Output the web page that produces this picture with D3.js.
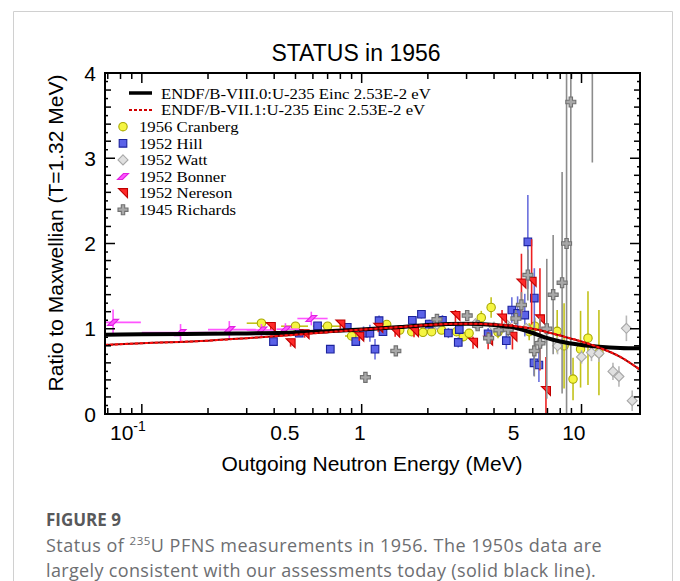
<!DOCTYPE html>
<html><head><meta charset="utf-8">
<script src="https://cdn.jsdelivr.net/npm/d3@7"></script>
<style>body{margin:0;background:#fff}svg{display:block}</style>
</head><body>
<svg id="c" width="680" height="581"></svg>
<script>
// ---------- data ----------
const curveE  = [0.068, 0.1, 0.2, 0.3, 0.5, 0.7, 1, 1.5, 2, 3, 4, 5, 6, 7, 8, 10, 12, 15, 18.45];
const endf8   = [0.93, 0.935, 0.94, 0.945, 0.955, 0.97, 0.99, 1.02, 1.045, 1.06, 1.045, 1.01, 0.95, 0.89, 0.85, 0.81, 0.79, 0.775, 0.77];
const endf7   = [0.81, 0.83, 0.86, 0.89, 0.93, 0.96, 0.99, 1.02, 1.045, 1.06, 1.05, 1.03, 1.0, 0.96, 0.92, 0.85, 0.78, 0.67, 0.52];

const cranE  = [0.35, 0.50, 0.70, 0.90, 1.30, 1.49, 1.69, 1.90, 2.08, 2.31, 2.70, 2.90, 3.08, 3.50, 3.88, 4.17, 5.78, 6.13, 7.75, 8.33, 9.15, 9.9, 10.7, 12.0];
const cranV  = [1.065, 1.03, 1.03, 0.915, 1.05, 0.985, 0.965, 0.958, 0.965, 0.985, 0.965, 0.907, 0.947, 1.13, 1.25, 0.96, 0.965, 1.03, 0.97, 0.80, 0.41, 0.76, 0.89, 0.72];
const cranDV = [0.03, 0.03, 0.03, 0.03, 0.03, 0.03, 0.03, 0.03, 0.03, 0.04, 0.04, 0.04, 0.05, 0.08, 0.12, 0.07, 0.1, 0.1, 0.25, 0.5, 0.25, 0.45, 0.55, 0.5];
const cranDE = [0.05, 0.07, 0.10, 0.06, 0, 0, 0, 0, 0, 0, 0, 0, 0, 0, 0, 0, 0, 0, 0, 0, 0, 0, 0, 0];

const hillE  = [0.397, 0.52, 0.63, 0.72, 0.86, 0.94, 1.02, 1.09, 1.15, 1.20, 1.25, 1.70, 1.87, 2.03, 2.33, 2.48, 2.75, 2.78, 3.76, 4.55, 4.82, 5.12, 5.52, 5.70, 6.10, 6.08, 6.40];
const hillV  = [0.85, 0.947, 1.035, 0.76, 1.017, 0.85, 0.947, 0.947, 0.76, 1.095, 0.965, 1.10, 1.17, 1.055, 1.10, 0.95, 0.84, 0.99, 0.94, 0.86, 1.22, 1.18, 1.16, 2.02, 1.36, 0.60, 0.575];
const hillDV = [0.03, 0.03, 0.04, 0.04, 0.04, 0.05, 0.08, 0.1, 0.12, 0.06, 0.05, 0.05, 0.05, 0.05, 0.06, 0.06, 0.06, 0.06, 0.07, 0.1, 0.15, 0.2, 0.25, 0.55, 0.35, 0.15, 0.2];

const wattE  = [2.2, 3.3, 4.0, 4.6, 5.6, 6.57, 7.78, 10.0, 11.1, 12.0, 13.9, 14.8, 16.0, 17.0];
const wattV  = [1.05, 1.06, 1.02, 1.04, 1.005, 0.85, 0.80, 0.67, 0.72, 0.71, 0.50, 0.44, 1.005, 0.156];
const wattDV = [0.03, 0.03, 0.04, 0.04, 0.05, 0.08, 0.1, 0.08, 0.1, 0.1, 0.1, 0.12, 0.15, 0.12];

const bonE   = [0.074, 0.15, 0.25, 0.35, 0.45, 0.59];
const bonV   = [1.075, 0.955, 0.99, 0.985, 0.995, 1.12];
const bonDV  = [0.15, 0.1, 0.1, 0.07, 0.07, 0.08];
const bonElo = [0.065, 0.10, 0.20, 0.30, 0.41, 0.51];
const bonEhi = [0.099, 0.22, 0.33, 0.40, 0.52, 0.70];

const nerE   = [0.386, 0.475, 0.55, 0.80, 0.975, 1.19, 1.42, 1.73, 2.67, 3.21, 3.76, 4.35, 4.85, 5.33, 5.93, 6.47, 6.89];
const nerV   = [1.02, 0.83, 0.935, 1.05, 0.907, 1.01, 0.955, 0.96, 1.15, 0.835, 0.86, 1.12, 0.907, 1.53, 1.55, 1.11, 0.27];
const nerDV  = [0.03, 0.04, 0.04, 0.05, 0.05, 0.05, 0.05, 0.06, 0.07, 0.07, 0.1, 0.1, 0.15, 0.35, 0.5, 0.6, 0.4];

const richE  = [1.04, 1.43, 2.2, 3.02, 3.37, 3.78, 4.21, 4.64, 5.03, 5.33, 5.70, 6.10, 6.47, 6.95, 7.43, 8.16, 8.55, 8.94, 11.2];
const richV  = [0.43, 0.74, 1.11, 1.155, 1.035, 0.89, 0.983, 0.99, 1.12, 1.28, 1.63, 0.74, 0.83, 1.0, 1.40, 1.54, 2.0, 3.66, 4.3];
const richDV = [0.04, 0.05, 0.05, 0.05, 0.05, 0.06, 0.06, 0.08, 0.1, 0.15, 0.3, 0.3, 0.3, 0.82, 0.7, 1.3, 2.0, 3.2, 1.35];

const xTickMajor = [0.1, 1, 10];
const xTickMinor = [0.07, 0.08, 0.09, 0.2, 0.3, 0.4, 0.5, 0.6, 0.7, 0.8, 0.9, 2, 3, 4, 5, 6, 7, 8, 9];
const xTickLabels = [[0.1, "10", "-1"], [0.5, "0.5", ""], [1, "1", ""], [5, "5", ""], [10, "10", ""]];
const yTickLabels = [0, 1, 2, 3, 4];

// ---------- layout ----------
const svg = d3.select("#c");
const L = 105, R = 640, T = 73, B = 414;
const x = d3.scaleLog().domain([0.068, 18.45]).range([L, R]);
const y = d3.scaleLinear().domain([0, 4]).range([B, T]);
const sans = "Liberation Sans, Arial, sans-serif";

// card border
svg.append("path").attr("d", `M13.5,600 V11.5 H672.5 V600`).attr("fill", "none").attr("stroke", "#d0d0d0").attr("stroke-width", 1);

// title
svg.append("text").attr("x", 356).attr("y", 61).attr("text-anchor", "middle")
  .attr("font-family", sans).attr("font-size", 23).text("STATUS in 1956");

// clip
svg.append("defs").append("clipPath").attr("id", "clip").append("rect")
  .attr("x", L).attr("y", T).attr("width", R - L).attr("height", B - T);
const plot = svg.append("g").attr("clip-path", "url(#clip)");

// marker shapes
const shapes = {
  circle: "M4.2,0A4.2,4.2 0 1,1 -4.2,0A4.2,4.2 0 1,1 4.2,0Z",
  square: "M-3.8,-3.8H3.8V3.8H-3.8Z",
  diamond: "M0,-5L5,0L0,5L-5,0Z",
  para: "M-5.5,3L0.5,-3L5.5,-3L-0.5,3Z",
  tri: "M-4.5,-4.5L4.5,-4.5L4.5,4.5Z",
  plus: "M-1.7,-5H1.7V-1.7H5V1.7H1.7V5H-1.7V1.7H-5V-1.7H-1.7Z"
};

const series = [
  {name: "1956 Cranberg", E: cranE, V: cranV, DV: cranDV, DE: cranDE, shape: "circle", fill: "#f5f542", stroke: "#a8a800", bar: "#c2c21a"},
  {name: "1952 Hill", E: hillE, V: hillV, DV: hillDV, shape: "square", fill: "#5b62e8", stroke: "#1c239c", bar: "#6a70dd"},
  {name: "1952 Watt", E: wattE, V: wattV, DV: wattDV, shape: "diamond", fill: "#e0e0e0", stroke: "#a8a8a8", bar: "#b8b8b8"},
  {name: "1952 Bonner", E: bonE, V: bonV, DV: bonDV, Elo: bonElo, Ehi: bonEhi, shape: "para", fill: "#ff55ff", stroke: "#e020e0", bar: "#ff55ff"},
  {name: "1952 Nereson", E: nerE, V: nerV, DV: nerDV, shape: "tri", fill: "#ff2a2a", stroke: "#c00000", bar: "#ee2020"},
  {name: "1945 Richards", E: richE, V: richV, DV: richDV, shape: "plus", fill: "#a8a8a8", stroke: "#707070", bar: "#8c8c8c"}
];

series.forEach(s => {
  const pts = s.E.map((e, i) => ({e, v: s.V[i], dv: s.DV[i],
    lo: s.Elo ? s.Elo[i] : (s.DE && s.DE[i] ? e - s.DE[i] : null),
    hi: s.Ehi ? s.Ehi[i] : (s.DE && s.DE[i] ? e + s.DE[i] : null)}));
  const g = plot.append("g");
  g.selectAll("line.v").data(pts).join("line").attr("class", "v")
    .attr("x1", d => x(d.e)).attr("x2", d => x(d.e))
    .attr("y1", d => y(Math.max(0, d.v - d.dv))).attr("y2", d => y(d.v + d.dv))
    .attr("stroke", s.bar).attr("stroke-width", 1.6);
  g.selectAll("line.h").data(pts.filter(d => d.lo != null)).join("line").attr("class", "h")
    .attr("x1", d => x(d.lo)).attr("x2", d => x(d.hi))
    .attr("y1", d => y(d.v)).attr("y2", d => y(d.v))
    .attr("stroke", s.bar).attr("stroke-width", 1.6);
  g.selectAll("path").data(pts).join("path")
    .attr("transform", d => `translate(${x(d.e)},${y(d.v)})`)
    .attr("d", shapes[s.shape]).attr("fill", s.fill).attr("stroke", s.stroke).attr("stroke-width", 1.1);
});

// curves
const line = d3.line().x(d => x(d[0])).y(d => y(d[1])).curve(d3.curveMonotoneX);
plot.append("path").datum(curveE.map((e, i) => [e, endf8[i]])).attr("d", line)
  .attr("fill", "none").attr("stroke", "#000").attr("stroke-width", 4);
plot.append("path").datum(curveE.map((e, i) => [e, endf7[i]])).attr("d", line)
  .attr("fill", "none").attr("stroke", "#8b0000").attr("stroke-width", 2);
plot.append("path").datum(curveE.map((e, i) => [e, endf7[i]])).attr("d", line)
  .attr("fill", "none").attr("stroke", "#ff1010").attr("stroke-width", 2).attr("stroke-dasharray", "3,2");

// axes frame
svg.append("rect").attr("x", L).attr("y", T).attr("width", R - L).attr("height", B - T)
  .attr("fill", "none").attr("stroke", "#000").attr("stroke-width", 2);

const ax = svg.append("g").attr("stroke", "#000").attr("stroke-width", 1.5);
function xt(vals, len) {
  vals.forEach(v => {
    ax.append("line").attr("x1", x(v)).attr("x2", x(v)).attr("y1", B).attr("y2", B - len);
    ax.append("line").attr("x1", x(v)).attr("x2", x(v)).attr("y1", T).attr("y2", T + len);
  });
}
xt(xTickMajor, 10);
xt(xTickMinor.filter(v => x(v) > L + 1), 6);
const yTicks = d3.range(0, 41).map(i => i / 10);
yTicks.forEach((v, i) => {
  const len = i % 10 === 0 ? 10 : (i % 2 === 0 ? 6 : 3);
  ax.append("line").attr("x1", L).attr("x2", L + len).attr("y1", y(v)).attr("y2", y(v));
  ax.append("line").attr("x1", R).attr("x2", R - len).attr("y1", y(v)).attr("y2", y(v));
});

// tick labels
const lab = svg.append("g").attr("font-family", sans).attr("font-size", 21).attr("fill", "#000");
xTickLabels.forEach(([v, t, sup]) => {
  const tx = lab.append("text").attr("x", x(v) + 4).attr("y", 440).attr("text-anchor", "end");
  tx.append("tspan").text(t);
  if (sup) tx.append("tspan").attr("font-size", 14).attr("dy", -9).text(sup);
});
yTickLabels.forEach(v => {
  lab.append("text").attr("x", 96).attr("y", y(v) + 7.5).attr("text-anchor", "end").text(v);
});

// axis titles
svg.append("text").attr("x", 372).attr("y", 471).attr("text-anchor", "middle")
  .attr("font-family", sans).attr("font-size", 21).text("Outgoing Neutron Energy (MeV)");
svg.append("text").attr("transform", "translate(63,233) rotate(-90)").attr("text-anchor", "middle")
  .attr("font-family", sans).attr("font-size", 21).text("Ratio to Maxwellian (T=1.32 MeV)");

// legend
const lg = svg.append("g").attr("font-family", "Liberation Serif, Times New Roman, serif").attr("font-size", 14.8);
function lgText(x0, y0, t) {
  lg.append("text").attr("transform", `translate(${x0},${y0}) scale(1.13,1.04)`).text(t);
}
lg.append("line").attr("x1", 129).attr("x2", 152).attr("y1", 93).attr("y2", 93).attr("stroke", "#000").attr("stroke-width", 3.5);
lgText(161, 98.5, "ENDF/B-VIII.0:U-235 Einc 2.53E-2 eV");
lg.append("line").attr("x1", 129).attr("x2", 152).attr("y1", 110).attr("y2", 110).attr("stroke", "#d00000").attr("stroke-width", 1.8).attr("stroke-dasharray", "3,2");
lgText(161, 115.3, "ENDF/B-VII.1:U-235 Einc 2.53E-2 eV");
series.forEach((s, i) => {
  const yy = 126.7 + i * 16.6;
  lg.append("path").attr("transform", `translate(123,${yy})`).attr("d", shapes[s.shape])
    .attr("fill", s.fill).attr("stroke", s.stroke).attr("stroke-width", 1.1);
  lgText(139, yy + 5.3, s.name);
});

// caption
const cap = svg.append("g").attr("font-family", "Open Sans, Noto Sans, sans-serif");
cap.append("text").attr("x", 46).attr("y", 526).attr("font-size", 17).attr("font-weight", "bold").attr("fill", "#58595b").text("FIGURE 9");
const c1 = cap.append("text").attr("x", 46).attr("y", 552).attr("font-size", 18).attr("letter-spacing", 0.5).attr("fill", "#6d6e71");
c1.append("tspan").text("Status of ");
c1.append("tspan").attr("font-size", 11.5).attr("dy", -7).text("235");
c1.append("tspan").attr("dy", 7).text("U PFNS measurements in 1956. The 1950s data are");
cap.append("text").attr("x", 46).attr("y", 577).attr("font-size", 18).attr("letter-spacing", 0.35).attr("fill", "#6d6e71")
  .text("largely consistent with our assessments today (solid black line).");
</script>
</body></html>
